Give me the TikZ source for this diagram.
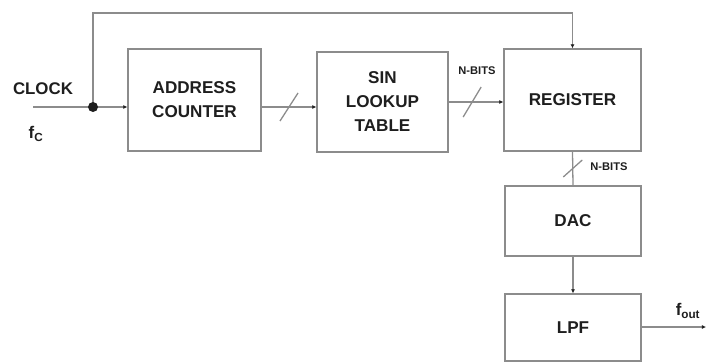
\documentclass[tikz,border=0pt]{standalone}
\usepackage{fontspec}
\setmainfont{Liberation Sans}
\usetikzlibrary{arrows.meta, calc}
\definecolor{wire}{HTML}{8C8C8C}
\definecolor{ink}{HTML}{1E1E1E}
\tikzset{
  blk/.style={draw=wire, line width=1.1pt, text=ink, align=center, inner sep=0pt,
    font=\fontsize{14.6}{20.5}\selectfont\bfseries},
  sig/.style={draw=wire, line width=1.1pt, -{Latex[length=3.5pt,width=3.5pt,color=ink]}},
  bus/.style={draw=wire, line width=1.1pt},
  lbl/.style={text=ink, font=\fontsize{14.4}{16}\selectfont\bfseries},
  tinylbl/.style={text=ink, font=\fontsize{9.5}{11}\selectfont\bfseries},
}

\begin{document}
\begin{tikzpicture}[x=0.03cm, y=-0.03cm]
    \useasboundingbox (0,0) rectangle (706,363);

    % blocks
    \node[blk, minimum width=3.99cm, minimum height=3.06cm] (addr) at (194.5,100) {ADDRESS\\COUNTER};
    \node[blk, minimum width=3.93cm, minimum height=3.0cm] (lut) at (382.5,102) {SIN\\LOOKUP\\TABLE};
    \node[blk, minimum width=4.11cm, minimum height=3.06cm] (reg) at (572.5,100) {REGISTER};
    \node[blk, minimum width=4.08cm, minimum height=2.1cm] (dac) at (573,221) {DAC};
    \node[blk, minimum width=4.08cm, minimum height=2.01cm] (lpf) at (573,327.5) {LPF};

    % labels
    \node[lbl] (clock) at (43,89) {CLOCK};
    \node[lbl] (fc) at (36,134) {f\textsubscript{C}};
    \node[lbl] (fout) at (688,311) {f\textsubscript{out}};
    \node[tinylbl] (nb1) at (477,71) {N-BITS};
    \node[tinylbl] (nb2) at (609,167) {N-BITS};

    \coordinate (clk) at (33,107);
    \coordinate (tap) at (93,107);
    \coordinate (top) at (93,13);
    \coordinate (out) at (706,327);

    % wires
    \draw[sig] (clk) -- (clk -| addr.west);
    \draw[sig] (clk -| addr.east) -- (clk -| lut.west);
    \draw[sig] (lut.east) -- (lut.east -| reg.west);
    \draw[sig] (tap) -- (top) -| (reg.north);
    \draw[bus] (reg.south) -- (dac.north);
    \draw[sig] (dac.south) -- (lpf.north);
    \draw[sig] (lpf.east |- out) -- (out);
    \fill[ink] (tap) circle (0.15cm);

    % bus slashes
    \draw[bus] ($(clk -| addr.east)!0.5!(clk -| lut.west)$) +(-9,14) -- +(9,-14);
    \draw[bus] ($(lut.east)!0.43!(lut.east -| reg.west)$) +(-9,15) -- +(9,-15);
    \draw[bus] ($(reg.south)!0.5!(dac.north)$) +(-9.5,8.5) -- +(9.5,-8.5);
\end{tikzpicture}
\end{document}
